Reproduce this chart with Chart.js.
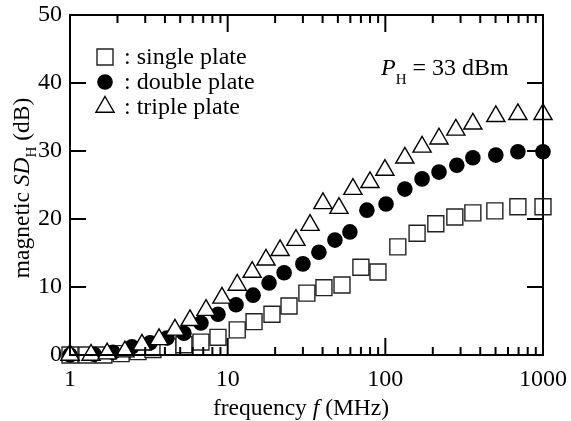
<!DOCTYPE html>
<html>
<head>
<meta charset="utf-8">
<script src="https://cdn.jsdelivr.net/npm/chart.js@4/dist/chart.umd.min.js"></script>
<style>
  html, body { margin: 0; padding: 0; background: #fff; }
  #sdChart { display: block; }
</style>
</head>
<body>
<canvas id="sdChart" width="571" height="421"></canvas>
<script>
// Frequencies (MHz) and shielding values (dB)
const singleFreq = [1, 1.28, 1.64, 2.11, 2.7, 3.36, 4.18, 5.28, 6.77, 8.68, 11.5, 14.7, 19.1, 24.5, 31.8, 40.8, 53.1, 70, 89.8, 120, 159, 209, 276, 359, 495, 693, 1000];
const singleDB = [0, 0, 0, 0.2, 0.5, 0.8, 1.2, 1.5, 1.9, 2.6, 3.7, 4.9, 6.0, 7.2, 9.1, 9.9, 10.3, 12.9, 12.2, 15.9, 17.9, 19.3, 20.3, 20.9, 21.2, 21.8, 21.8];

const doubleFreq = [1, 1.42, 1.87, 2.47, 3.22, 4.12, 5.28, 6.77, 8.68, 11.3, 14.5, 18.3, 22.8, 30, 37.9, 47.9, 59.6, 76.4, 101, 133, 171, 219, 284, 359, 502, 693, 1000];
const doubleDB = [0, 0.1, 0.4, 1.2, 1.8, 2.5, 3.2, 4.7, 6.0, 7.4, 8.8, 10.6, 12.1, 13.4, 15.1, 16.9, 18.1, 21.3, 22.2, 24.4, 25.9, 26.9, 27.9, 29.0, 29.4, 29.9, 29.9];

const tripleFreq = [1, 1.36, 1.72, 2.23, 2.86, 3.67, 4.63, 5.77, 7.29, 9.2, 11.5, 14.3, 17.5, 21.5, 27.1, 33.3, 40.2, 50.8, 62.3, 79.9, 99.4, 133, 171, 219, 280, 359, 502, 693, 1000];
const tripleDB = [0, 0, 0.2, 0.5, 1.5, 2.3, 3.7, 5.1, 6.6, 8.4, 10.3, 12.2, 14.0, 15.4, 16.9, 19.1, 22.3, 21.6, 24.4, 25.4, 27.2, 29.0, 30.6, 31.8, 33.1, 34.0, 35.1, 35.4, 35.4];

const xLabels = [1, 10, 100, 1000];
const yTicks = [0, 10, 20, 30, 40, 50];

const SERIF = "'Liberation Serif', 'Times New Roman', serif";

function toPoints(xs, ys) {
    return xs.map((x, i) => ({ x: x, y: ys[i] }));
}

// Inward tick marks and the closed frame
const frameTicks = {
    id: 'frameTicks',
    afterDatasetsDraw(chart) {
        const { ctx, chartArea: a, scales: { x, y } } = chart;
        ctx.save();
        ctx.strokeStyle = '#000';
        ctx.lineWidth = 2;
        ctx.beginPath();
        yTicks.forEach(v => {
            if (v <= 0 || v >= 50) return;
            const py = y.getPixelForValue(v);
            ctx.moveTo(a.left, py); ctx.lineTo(a.left + 16, py);
            ctx.moveTo(a.right, py); ctx.lineTo(a.right - 16, py);
        });
        for (let d = 0; d < 3; d++) {
            for (let m = 1; m <= 9; m++) {
                const v = m * Math.pow(10, d);
                if (v <= 1 || v >= 1000) continue;
                const px = x.getPixelForValue(v);
                const len = m === 1 ? 17 : 8;
                ctx.moveTo(px, a.bottom); ctx.lineTo(px, a.bottom - len);
                ctx.moveTo(px, a.top); ctx.lineTo(px, a.top + len);
            }
        }
        ctx.stroke();
        ctx.strokeRect(a.left, a.top, a.right - a.left, a.bottom - a.top);
        ctx.restore();
    }
};

// draw runs of text with mixed styles
function drawRuns(ctx, runs, x, y, align) {
    const widths = runs.map(r => { ctx.font = r.font; return ctx.measureText(r.t).width; });
    const total = widths.reduce((s, w) => s + w, 0);
    let cx = align === 'center' ? x - total / 2 : x;
    runs.forEach((r, i) => {
        ctx.font = r.font;
        ctx.fillText(r.t, cx, y + (r.dy || 0));
        cx += widths[i];
    });
}

const overlayText = {
    id: 'overlayText',
    afterDraw(chart) {
        const ctx = chart.ctx;
        const base = '23.5px ' + SERIF;
        const ital = 'italic 23.5px ' + SERIF;
        const sub = '15px ' + SERIF;
        const legendFont = '24px ' + SERIF;
        ctx.save();
        ctx.fillStyle = '#000';
        ctx.textAlign = 'left';

        // legend
        const lx = 105;
        const rows = [
            { y: 57, text: ': single plate', kind: 'square' },
            { y: 82, text: ': double plate', kind: 'circle' },
            { y: 107, text: ': triple plate', kind: 'triangle' }
        ];
        rows.forEach(r => {
            ctx.beginPath();
            if (r.kind === 'square') {
                ctx.lineWidth = 1.4; ctx.strokeStyle = '#222';
                ctx.rect(lx - 8, r.y - 8, 16, 16);
                ctx.fillStyle = '#fff'; ctx.fill(); ctx.stroke();
            } else if (r.kind === 'circle') {
                ctx.arc(lx, r.y, 7.8, 0, Math.PI * 2);
                ctx.fillStyle = '#000'; ctx.fill();
            } else {
                const rr = 10.5;
                ctx.lineWidth = 1.4; ctx.strokeStyle = '#000';
                ctx.moveTo(lx, r.y - rr);
                ctx.lineTo(lx + rr * 0.866, r.y + rr * 0.5);
                ctx.lineTo(lx - rr * 0.866, r.y + rr * 0.5);
                ctx.closePath();
                ctx.fillStyle = '#fff'; ctx.fill(); ctx.stroke();
            }
            ctx.fillStyle = '#000';
            ctx.font = legendFont;
            ctx.textBaseline = 'middle';
            ctx.fillText(r.text, 124, r.y + 1);
        });

        // P_H = 33 dBm
        ctx.textBaseline = 'alphabetic';
        drawRuns(ctx, [
            { t: 'P', font: 'italic 24px ' + SERIF },
            { t: 'H', font: sub, dy: 9 },
            { t: ' = 33 dBm', font: legendFont }
        ], 381, 75, 'left');

        // x axis title
        drawRuns(ctx, [
            { t: 'frequency ', font: base },
            { t: 'f', font: ital },
            { t: ' (MHz)', font: base }
        ], 301, 415, 'center');

        // y axis title
        ctx.translate(29, 188);
        ctx.rotate(-Math.PI / 2);
        drawRuns(ctx, [
            { t: 'magnetic ', font: base },
            { t: 'SD', font: ital },
            { t: 'H', font: sub, dy: 7 },
            { t: ' (dB)', font: base }
        ], 0, 0, 'center');
        ctx.restore();
    }
};

const tickFont = { family: SERIF, size: 24 };

new Chart(document.getElementById('sdChart'), {
    type: 'scatter',
    data: {
        datasets: [
            {
                label: 'triple plate',
                data: toPoints(tripleFreq, tripleDB),
                pointStyle: 'triangle',
                pointRadius: 10.5,
                backgroundColor: '#fff',
                borderColor: '#000',
                borderWidth: 1.4,
                order: 0,
                clip: false
            },
            {
                label: 'double plate',
                data: toPoints(doubleFreq, doubleDB),
                pointStyle: 'circle',
                pointRadius: 7.8,
                backgroundColor: '#000',
                borderColor: '#000',
                borderWidth: 0,
                order: 1,
                clip: false
            },
            {
                label: 'single plate',
                data: toPoints(singleFreq, singleDB),
                pointStyle: 'rect',
                pointRadius: 11.3,
                backgroundColor: '#fff',
                borderColor: '#222',
                borderWidth: 1.4,
                order: 2,
                clip: false
            }
        ]
    },
    options: {
        responsive: false,
        animation: false,
        devicePixelRatio: 1,
        layout: { padding: { top: 15, right: 28, left: 0, bottom: 0 } },
        plugins: {
            legend: { display: false },
            tooltip: { enabled: false }
        },
        scales: {
            x: {
                type: 'logarithmic',
                min: 1,
                max: 1000,
                grid: { display: false, drawTicks: false },
                border: { display: false },
                ticks: {
                    autoSkip: false,
                    maxRotation: 0,
                    padding: 10,
                    color: '#000',
                    font: tickFont,
                    callback: v => xLabels.includes(v) ? String(v) : ''
                },
                afterFit: s => { s.height = 66; s.paddingLeft = 0; s.paddingRight = 0; }
            },
            y: {
                min: 0,
                max: 50,
                grid: { display: false, drawTicks: false },
                border: { display: false },
                ticks: {
                    stepSize: 10,
                    padding: 8,
                    color: '#000',
                    font: tickFont
                },
                afterFit: s => { s.width = 70; s.paddingTop = 0; s.paddingBottom = 0; }
            }
        }
    },
    plugins: [frameTicks, overlayText]
});
</script>
</body>
</html>
